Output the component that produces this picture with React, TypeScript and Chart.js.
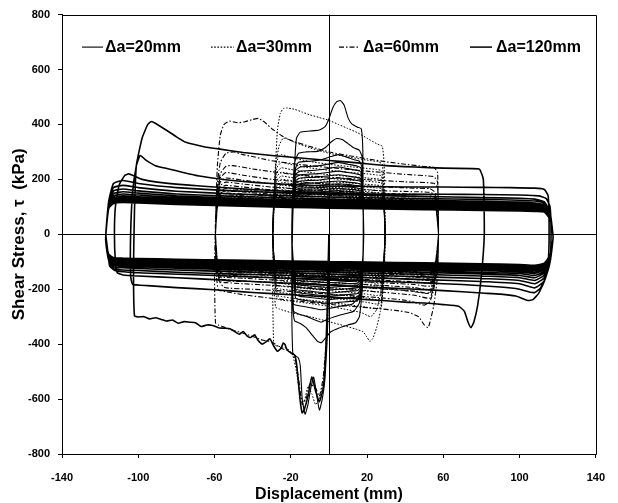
import React, { useEffect, useRef } from "react";
import { Chart, registerables } from "chart.js";

Chart.register(...registerables);

type P = [number, number];

// ---- axis ticks ----
const X_MIN = -140;
const X_MAX = 140;
const X_STEP = 40;
const Y_MIN = -800;
const Y_MAX = 800;
const Y_STEP = 200;

const seriesNames = ["Δa=20mm", "Δa=30mm", "Δa=60mm", "Δa=120mm"];

// ---- Δa = 20 mm : first loading + first three loops ----
const start20: P[] = [
  [0, 0], [-0.5, -300], [-2, -520], [-3.5, -600], [-5, -640], [-6.5, -580], [-8, -520], [-9.5, -560], [-11, -620], [-12.5, -655], [-14, -600], [-15, -480], [-16, -450], [-18, -440], [-19, -430],
  [-19.5, -200], [-19, 50], [-18, 250], [-17, 350], [-15, 372], [-10, 376], [-5, 380], [-2, 392], [0, 420], [2, 460], [4, 482], [6, 487], [8, 470], [10, 425], [12, 402], [15, 390], [17, 384], [17.8, 300],
  [18, 0], [17.5, -200], [16, -300], [14, -322], [10, -330], [5, -342], [1, -355], [-2, -380], [-4, -395], [-6, -390], [-9, -365], [-12, -340], [-15, -325], [-18, -315], [-19, -250],
  [-19.5, 0], [-19, 150], [-18, 260], [-16, 295], [-12, 300], [-6, 302], [-2, 315], [1, 335], [4, 349], [7, 345], [10, 330], [13, 315], [16, 306], [17.5, 280],
  [18, 0], [17.5, -150], [16, -250], [13, -280], [8, -290], [3, -300], [-1, -310], [-4, -320], [-8, -310], [-12, -298], [-16, -290], [-18.5, -280], [-19, -200],
  [-19.5, 0], [-19, 140], [-18, 230], [-16, 262], [-10, 266], [-4, 272], [1, 283], [5, 290], [9, 282], [13, 272], [16, 266], [17.5, 240],
  [18, 0], [17.5, -130], [16, -225], [12, -255], [6, -262], [0, -270], [-4, -275], [-9, -268], [-14, -262], [-18.5, -255], [-19, -180],
];
// later cycles of Δa = 20 mm (displacement nodes, stress on loading / unloading branch)
const nodes20 = [-19.5, -18.8, -17.5, -15, -10, -5, 0, 5, 10, 15, 16.8, 17.8, 18.3];
const up20 = [
  [0, 140, 232, 245, 247, 250, 256, 262, 255, 248, 242, 160, 0],
  [0, 135, 218, 230, 232, 235, 240, 245, 239, 232, 227, 150, 0],
  [0, 130, 206, 217, 219, 221, 226, 230, 225, 219, 214, 142, 0],
  [0, 125, 195, 205, 207, 209, 213, 217, 212, 207, 202, 135, 0],
  [0, 120, 185, 194, 196, 198, 202, 205, 201, 196, 192, 128, 0],
  [0, 116, 176, 185, 186, 188, 191, 194, 190, 186, 182, 122, 0],
  [0, 112, 168, 176, 177, 179, 182, 184, 181, 177, 173, 116, 0],
  [0, 108, 160, 168, 169, 170, 173, 175, 172, 168, 165, 111, 0],
  [0, 104, 153, 160, 161, 162, 165, 167, 164, 160, 157, 106, 0],
  [0, 100, 146, 153, 154, 155, 157, 159, 156, 153, 150, 102, 0],
  [0, 97, 140, 146, 147, 148, 150, 152, 149, 146, 144, 98, 0],
];
const lo20 = [
  [0, -130, -232, -238, -243, -248, -252, -248, -245, -242, -220, -120, 0],
  [0, -124, -220, -226, -230, -234, -238, -234, -231, -228, -208, -115, 0],
  [0, -118, -209, -214, -218, -222, -225, -222, -219, -216, -198, -110, 0],
  [0, -113, -199, -204, -207, -211, -214, -211, -208, -205, -188, -105, 0],
  [0, -108, -190, -194, -197, -200, -203, -200, -198, -195, -179, -100, 0],
  [0, -104, -181, -185, -188, -191, -193, -191, -188, -186, -171, -96, 0],
  [0, -100, -173, -177, -179, -182, -184, -182, -180, -177, -163, -92, 0],
  [0, -96, -166, -169, -171, -174, -176, -174, -172, -169, -156, -88, 0],
  [0, -93, -159, -162, -164, -166, -168, -166, -164, -162, -149, -85, 0],
  [0, -90, -153, -155, -157, -159, -161, -159, -157, -155, -143, -82, 0],
  [0, -87, -147, -149, -151, -153, -155, -153, -151, -149, -138, -80, 0],
];

// ---- Δa = 30 mm ----
const start30: P[] = [
  [0, 0], [-1, -380], [-3, -540], [-5, -600], [-7, -620], [-9, -580], [-11, -555], [-13, -610], [-15, -590], [-17, -500], [-19, -440], [-22, -415], [-25, -410], [-28, -405], [-29, -395],
  [-29.5, -200], [-29, 50], [-28, 250], [-27, 380], [-25.5, 440], [-24, 458], [-22, 460], [-18, 455], [-14, 445], [-10, 435], [-5, 425], [0, 415], [5, 400], [10, 385], [15, 370], [20, 350], [25, 330], [28, 320], [29, 250],
  [29.5, 0], [29, -150], [27, -280], [25, -340], [23, -380], [21.5, -390], [20, -375], [18, -355], [14, -345], [8, -333], [0, -318], [-10, -300], [-20, -285], [-26, -272], [-28, -265], [-29, -150],
  [-29.5, 0], [-29, 120], [-28, 250], [-26, 325], [-24, 350], [-21, 345], [-18, 335], [-10, 315], [0, 295], [10, 282], [20, 270], [26, 264], [28, 255], [29, 150],
  [29.5, 0], [29, -100], [27, -220], [25, -275], [22, -300], [20, -295], [17, -285], [10, -275], [0, -262], [-10, -252], [-20, -243], [-27, -235], [-29, -120],
];
const nodes30 = [-29.5, -28.8, -27.5, -25, -20, -10, 0, 10, 20, 25, 27.5, 28.8, 29.5];
const up30 = [
  [0, 150, 265, 290, 280, 265, 255, 247, 240, 236, 232, 170, 0],
  [0, 140, 240, 262, 254, 242, 233, 226, 220, 216, 213, 160, 0],
  [0, 135, 222, 242, 236, 225, 217, 211, 205, 202, 199, 150, 0],
  [0, 130, 208, 226, 220, 211, 204, 198, 193, 190, 187, 142, 0],
  [0, 125, 196, 212, 207, 199, 192, 187, 182, 179, 176, 135, 0],
  [0, 120, 185, 200, 196, 188, 182, 177, 172, 169, 166, 128, 0],
  [0, 115, 175, 189, 185, 178, 172, 168, 163, 160, 157, 122, 0],
  [0, 110, 166, 179, 175, 169, 164, 160, 155, 152, 149, 116, 0],
  [0, 106, 158, 170, 167, 161, 156, 152, 148, 145, 142, 111, 0],
  [0, 102, 151, 162, 159, 154, 149, 145, 141, 138, 136, 106, 0],
  [0, 98, 144, 154, 152, 147, 142, 138, 134, 132, 130, 102, 0],
  [0, 95, 138, 147, 145, 140, 136, 132, 128, 126, 124, 98, 0],
];
const lo30 = [
  [0, -120, -222, -226, -232, -240, -248, -256, -266, -272, -265, -150, 0],
  [0, -115, -208, -212, -217, -224, -232, -239, -248, -254, -248, -140, 0],
  [0, -110, -196, -200, -204, -211, -218, -224, -232, -238, -232, -132, 0],
  [0, -106, -185, -189, -193, -199, -205, -211, -218, -223, -218, -125, 0],
  [0, -102, -176, -179, -183, -188, -194, -199, -205, -210, -205, -118, 0],
  [0, -98, -167, -170, -174, -179, -184, -189, -194, -198, -194, -112, 0],
  [0, -95, -159, -162, -165, -170, -175, -179, -184, -188, -184, -107, 0],
  [0, -92, -152, -155, -158, -162, -166, -170, -175, -178, -175, -102, 0],
  [0, -89, -145, -148, -151, -155, -159, -162, -166, -169, -166, -98, 0],
  [0, -86, -139, -142, -144, -148, -152, -155, -158, -161, -158, -94, 0],
  [0, -84, -134, -136, -138, -142, -145, -148, -151, -154, -151, -91, 0],
  [0, -82, -129, -131, -133, -136, -139, -142, -145, -147, -145, -88, 0],
];

// ---- Δa = 60 mm ----
const start60: P[] = [
  [0, 0], [-1, -350], [-3, -520], [-5, -590], [-7, -560], [-10, -545], [-12, -600], [-14, -620], [-16, -520], [-18, -445], [-21, -425], [-25, -415], [-30, -392], [-35, -385], [-40, -372], [-45, -360], [-50, -350], [-55, -338], [-58, -330], [-59.5, -322],
  [-60, -150], [-59.5, 50], [-58.5, 250], [-57, 360], [-55, 400], [-52, 412], [-48, 406], [-44, 410], [-40, 418], [-37, 422], [-34, 410], [-30, 385], [-25, 360], [-20, 342], [-10, 320], [0, 300], [10, 287], [20, 275], [30, 264], [40, 255], [50, 247], [55, 244], [57, 225],
  [57.5, 0], [57, -150], [55, -260], [53, -320], [52, -340], [50, -330], [47, -300], [42, -285], [35, -277], [25, -270], [15, -264], [0, -255], [-15, -244], [-30, -233], [-45, -220], [-55, -208], [-58, -203], [-59, -150],
  [-59.5, 0], [-59, 150], [-57, 260], [-54, 295], [-50, 300], [-45, 290], [-40, 283], [-35, 275], [-30, 268], [-20, 258], [-10, 250], [0, 243], [20, 230], [40, 218], [55, 210], [57, 190],
  [57.5, 0], [57, -120], [55, -200], [53, -245], [50, -258], [46, -250], [40, -240], [25, -230], [0, -218], [-20, -208], [-40, -200], [-55, -193], [-59, -150],
  [-59.5, 0], [-59, 140], [-57, 220], [-54, 248], [-50, 250], [-40, 238], [-30, 228], [-15, 215], [0, 208], [20, 199], [40, 191], [55, 186], [57, 170],
  [57.5, 0], [57, -110], [55, -185], [52, -215], [48, -212], [40, -205], [20, -195], [0, -186], [-20, -178], [-40, -172], [-55, -168], [-59, -130],
];
const nodes60 = [-59.5, -58.5, -57, -54, -45, -30, -15, 0, 15, 30, 45, 53, 56, 57.5];
const up60 = [
  [0, 150, 205, 225, 215, 200, 190, 183, 177, 172, 168, 166, 150, 0],
  [0, 140, 190, 205, 197, 184, 175, 168, 163, 158, 155, 153, 140, 0],
  [0, 132, 178, 190, 183, 172, 164, 158, 153, 149, 146, 144, 132, 0],
  [0, 126, 168, 178, 172, 162, 155, 150, 145, 141, 138, 136, 125, 0],
  [0, 120, 158, 167, 162, 153, 147, 142, 138, 134, 131, 129, 118, 0],
  [0, 115, 150, 158, 154, 146, 140, 135, 131, 128, 125, 123, 113, 0],
  [0, 110, 143, 150, 146, 139, 133, 129, 125, 122, 119, 117, 108, 0],
  [0, 106, 137, 143, 140, 133, 127, 123, 120, 117, 114, 112, 104, 0],
  [0, 102, 131, 137, 134, 127, 122, 118, 115, 112, 110, 108, 100, 0],
  [0, 98, 126, 131, 128, 122, 117, 113, 110, 108, 106, 104, 96, 0],
];
const lo60 = [
  [0, -140, -172, -176, -180, -186, -192, -198, -204, -212, -222, -232, -150, 0],
  [0, -132, -162, -166, -170, -175, -181, -186, -192, -199, -207, -214, -140, 0],
  [0, -125, -154, -157, -160, -166, -171, -176, -181, -187, -194, -200, -132, 0],
  [0, -119, -146, -149, -152, -157, -162, -167, -172, -177, -183, -188, -125, 0],
  [0, -114, -139, -142, -145, -150, -154, -159, -163, -168, -173, -177, -118, 0],
  [0, -109, -133, -136, -139, -143, -147, -151, -155, -159, -164, -167, -112, 0],
  [0, -105, -127, -130, -133, -137, -141, -145, -148, -152, -156, -159, -107, 0],
  [0, -101, -122, -125, -127, -131, -135, -138, -141, -145, -148, -151, -103, 0],
  [0, -98, -117, -120, -122, -126, -129, -132, -135, -138, -141, -144, -99, 0],
  [0, -95, -113, -116, -118, -121, -124, -127, -130, -133, -136, -138, -95, 0],
];

// ---- Δa = 120 mm ----
const start120: P[] = [
  [0, 0], [-1, -300], [-2, -480], [-3, -560], [-5, -610], [-7, -570], [-9, -520], [-11, -590], [-13, -640], [-14, -650], [-15, -610], [-16, -540], [-17, -470], [-18, -440], [-20, -432], [-22, -420], [-23, -402], [-24, -396], [-25, -414], [-27, -426], [-29, -406], [-31, -380], [-33, -392], [-35, -400], [-37, -388], [-39, -366], [-41, -376], [-43, -370], [-45, -354], [-47, -364], [-49, -356], [-52, -344], [-55, -342], [-58, -340], [-61, -332], [-64, -330], [-67, -336], [-70, -322], [-73, -320], [-76, -318], [-79, -324], [-82, -312], [-85, -316], [-88, -310], [-91, -304], [-94, -308], [-97, -300], [-100, -301], [-102, -296],
  [-102.5, -120], [-102, 80], [-101, 250], [-98, 350], [-95, 400], [-93, 411], [-90, 400], [-85, 378], [-80, 355], [-75, 335], [-65, 318], [-58, 311], [-45, 298], [-30, 287], [-15, 278], [0, 269], [15, 260], [30, 250], [45, 245], [60, 241], [75, 239], [79, 237], [81, 200],
  [81.5, 0], [80, -150], [78, -260], [76, -320], [74.5, -340], [73, -320], [71, -280], [68, -262], [60, -256], [50, -250], [40, -247], [30, -242], [20, -238], [10, -233], [0, -228], [-20, -220], [-40, -212], [-60, -202], [-80, -194], [-95, -187], [-103, -182], [-104, -150],
  [-104, 0], [-103, 150], [-101, 250], [-99, 287], [-96, 270], [-91, 250], [-84, 238], [-77, 226], [-68, 212], [-58, 202], [-45, 192], [-30, 185], [-15, 180], [0, 176], [20, 174], [40, 172], [60, 172], [80, 171], [95, 170], [108, 168], [113, 163], [115, 140],
  [115.5, 0], [115, -100], [113, -170], [110, -215], [107, -238], [104.5, -241], [102, -235], [98, -225], [90, -218], [80, -214], [60, -205], [40, -198], [20, -192], [0, -185], [-20, -179], [-40, -172], [-60, -165], [-80, -158], [-100, -152], [-108, -148], [-111, -140], [-112, -100],
  [-112.5, 0], [-112, 100], [-110, 180], [-107, 215], [-105, 220], [-102, 212], [-98, 200], [-90, 190], [-75, 180], [-60, 172], [-40, 163], [-20, 156], [0, 150], [20, 147], [40, 146], [60, 146], [80, 145], [100, 143], [110, 140], [114, 130], [116, 100],
  [116.5, 0], [116, -100], [114, -150], [111, -195], [108, -212], [105, -210], [100, -200], [90, -192], [70, -183], [50, -177], [30, -172], [0, -165], [-30, -158], [-60, -150], [-90, -143], [-105, -138], [-112, -133], [-115, -115], [-116, -60],
];
const nodes120 = [-117, -115.5, -113, -108, -100, -80, -50, -20, 0, 20, 50, 80, 100, 108, 113, 116, 117.5];
const up120 = [
  [0, 120, 185, 196, 185, 170, 158, 150, 145, 142, 138, 134, 131, 128, 118, 80, 0],
  [0, 115, 170, 178, 170, 157, 147, 140, 136, 133, 130, 127, 124, 121, 112, 75, 0],
  [0, 112, 158, 165, 158, 147, 138, 132, 128, 126, 123, 120, 117, 114, 106, 72, 0],
  [0, 110, 148, 155, 150, 140, 131, 126, 122, 120, 117, 114, 111, 108, 101, 70, 0],
  [0, 108, 140, 147, 143, 134, 126, 121, 117, 115, 112, 109, 106, 104, 97, 68, 0],
  [0, 106, 134, 140, 137, 129, 122, 117, 114, 111, 108, 105, 102, 100, 94, 66, 0],
  [0, 104, 129, 134, 132, 125, 118, 113, 110, 108, 105, 102, 99, 97, 91, 64, 0],
  [0, 102, 125, 130, 128, 121, 115, 110, 107, 105, 102, 99, 96, 94, 89, 62, 0],
  [0, 100, 121, 126, 124, 118, 112, 107, 104, 102, 99, 96, 94, 92, 87, 60, 0],
  [0, 98, 118, 122, 120, 115, 109, 104, 101, 99, 96, 93, 91, 89, 85, 58, 0],
  [0, 96, 115, 119, 117, 112, 106, 101, 98, 96, 93, 90, 88, 86, 83, 56, 0],
  [0, 94, 112, 116, 114, 109, 103, 98, 95, 93, 90, 87, 85, 83, 81, 54, 0],
];
const lo120 = [
  [-30, -95, -125, -130, -132, -138, -145, -150, -154, -158, -165, -172, -180, -195, -170, -100, -20],
  [-30, -92, -118, -122, -124, -130, -136, -141, -145, -149, -155, -161, -168, -180, -158, -95, -20],
  [-30, -90, -112, -116, -118, -123, -129, -134, -137, -141, -146, -152, -158, -168, -148, -92, -20],
  [-30, -88, -107, -111, -113, -118, -123, -127, -131, -134, -139, -144, -150, -158, -140, -90, -20],
  [-30, -86, -103, -107, -109, -113, -118, -122, -125, -128, -133, -138, -143, -150, -134, -88, -20],
  [-30, -84, -100, -103, -105, -109, -114, -117, -120, -123, -127, -132, -137, -143, -128, -86, -20],
  [-30, -82, -97, -100, -102, -106, -110, -113, -116, -118, -122, -127, -131, -137, -123, -84, -20],
  [-30, -80, -94, -97, -99, -103, -106, -109, -112, -114, -118, -122, -126, -131, -119, -82, -20],
  [-30, -78, -91, -94, -96, -100, -103, -106, -108, -110, -114, -118, -122, -126, -115, -80, -20],
  [-30, -76, -89, -92, -93, -97, -100, -103, -105, -107, -110, -114, -118, -121, -111, -78, -20],
  [-30, -74, -87, -89, -91, -94, -97, -100, -102, -104, -107, -110, -114, -117, -108, -76, -20],
  [-30, -72, -85, -87, -88, -91, -94, -97, -99, -101, -104, -107, -110, -113, -105, -74, -20],
];

function buildPath(start: P[], nodes: number[], up: number[][], lo: number[][]) {
  const pts = start.map(([x, y]) => ({ x, y }));
  for (let c = 0; c < up.length; c++) {
    nodes.forEach((x, i) => pts.push({ x, y: up[c][i] }));
    for (let i = nodes.length - 1; i >= 0; i--) pts.push({ x: nodes[i], y: lo[c][i] });
  }
  return pts;
}

const BOLD = "'Liberation Sans', Arial, sans-serif";

const dashes: number[][] = [[], [1.6, 1.6], [5, 2, 1.5, 2], []];
const widths = [1.1, 1, 1.1, 1.6];

const framePlugin = {
  id: "frame",
  beforeDatasetsDraw(chart: any) {
    const { ctx, chartArea: a, scales } = chart;
    ctx.save();
    ctx.strokeStyle = "#000";
    ctx.lineWidth = 1;
    const x0 = Math.round(scales.x.getPixelForValue(0)) + 0.5;
    const y0 = Math.round(scales.y.getPixelForValue(0)) + 0.5;
    ctx.beginPath();
    ctx.moveTo(x0, a.top);
    ctx.lineTo(x0, a.bottom);
    ctx.moveTo(a.left, y0);
    ctx.lineTo(a.right, y0);
    ctx.stroke();
    ctx.beginPath();
    ctx.rect(Math.round(a.left) + 0.5, Math.round(a.top) + 0.5, Math.round(a.right - a.left), Math.round(a.bottom - a.top));
    ctx.stroke();
    ctx.restore();
  },
};

const legendPlugin = {
  id: "insideLegend",
  afterDatasetsDraw(chart: any) {
    const { ctx, chartArea: a } = chart;
    const y = a.top + 32;
    const entries = [
      { lx: 20, lw: 21, tx: 43 },
      { lx: 149, lw: 23, tx: 174 },
      { lx: 277, lw: 21, tx: 301 },
      { lx: 408, lw: 22, tx: 434 },
    ];
    ctx.save();
    ctx.font = `bold 16px ${BOLD}`;
    ctx.textBaseline = "middle";
    ctx.fillStyle = "#000";
    entries.forEach((e, i) => {
      ctx.beginPath();
      ctx.setLineDash(dashes[i]);
      ctx.lineWidth = i === 3 ? 1.5 : 1.1;
      ctx.strokeStyle = "#000";
      ctx.moveTo(a.left + e.lx, y + 0.5);
      ctx.lineTo(a.left + e.lx + e.lw, y + 0.5);
      ctx.stroke();
      ctx.setLineDash([]);
      ctx.fillText(seriesNames[i], a.left + e.tx, y + 1);
    });
    ctx.restore();
  },
};

export default function App() {
  const ref = useRef<HTMLCanvasElement | null>(null);
  useEffect(() => {
    if (!ref.current) return;
    const paths = [
      buildPath(start20, nodes20, up20, lo20),
      buildPath(start30, nodes30, up30, lo30),
      buildPath(start60, nodes60, up60, lo60),
      buildPath(start120, nodes120, up120, lo120),
    ];
    const chart = new Chart(ref.current, {
      type: "scatter",
      data: {
        datasets: paths.map((p, i) => ({
          label: seriesNames[i],
          data: p,
          showLine: true,
          borderColor: "#000",
          backgroundColor: "#000",
          borderWidth: widths[i],
          borderDash: dashes[i],
          borderJoinStyle: "round",
          pointRadius: 0,
          pointHoverRadius: 0,
          tension: 0.15,
        })),
      },
      options: {
        animation: false,
        responsive: false,
        devicePixelRatio: 1,
        events: [],
        layout: { padding: { top: 12, right: 10, left: 0, bottom: 0 } },
        plugins: { legend: { display: false }, tooltip: { enabled: false } },
        scales: {
          x: {
            type: "linear",
            min: X_MIN,
            max: X_MAX,
            afterFit: (s: any) => { s.height = 49; },
            ticks: { stepSize: X_STEP, color: "#000", padding: 13, font: { family: BOLD, weight: "bold", size: 11 }, maxRotation: 0 },
            grid: { drawOnChartArea: false, drawTicks: true, tickLength: 4, tickColor: "#000" },
            border: { color: "#000", width: 1 },
            title: { display: true, text: "Displacement (mm)", color: "#000", font: { family: BOLD, weight: "bold", size: 16 }, padding: { top: 0, bottom: -1 } },
          },
          y: {
            type: "linear",
            min: Y_MIN,
            max: Y_MAX,
            afterFit: (s: any) => { s.width = 62; },
            ticks: { stepSize: Y_STEP, color: "#000", padding: 8, font: { family: BOLD, weight: "bold", size: 11 } },
            grid: { drawOnChartArea: false, drawTicks: true, tickLength: 4, tickColor: "#000" },
            border: { color: "#000", width: 1 },
            title: { display: true, text: "Shear Stress, τ  (kPa)", color: "#000", font: { family: BOLD, weight: "bold", size: 17 }, padding: { top: 9, bottom: 0 } },
          },
        },
      } as any,
      plugins: [framePlugin, legendPlugin],
    });
    return () => chart.destroy();
  }, []);
  return (
    <div style={{ position: "fixed", left: 0, top: 0, width: 618, height: 503, background: "#fff" }}>
      <canvas ref={ref} width={618} height={503} style={{ display: "block" }} />
    </div>
  );
}
